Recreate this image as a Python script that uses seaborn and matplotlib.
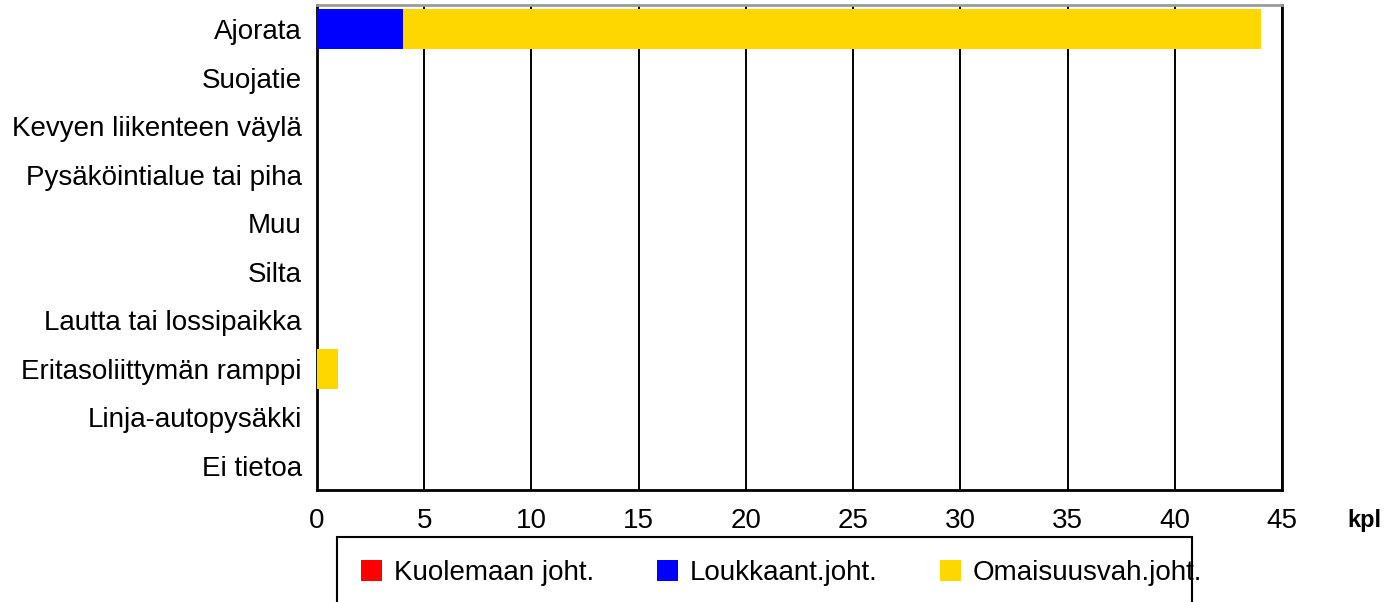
import matplotlib
matplotlib.use("Agg")
import matplotlib.pyplot as plt
import seaborn as sns
import pandas as pd
import numpy as np
from matplotlib.patches import Patch, Rectangle

sns.set_theme(style="white")
plt.rcParams["font.family"] = ["Liberation Sans", "DejaVu Sans"]
plt.rcParams["text.color"] = "black"
plt.rcParams["xtick.color"] = "black"
plt.rcParams["ytick.color"] = "black"

categories = [
    "Ajorata", "Suojatie", "Kevyen liikenteen väylä", "Pysäköintialue tai piha",
    "Muu", "Silta", "Lautta tai lossipaikka", "Eritasoliittymän ramppi",
    "Linja-autopysäkki", "Ei tietoa",
]
kuolemaan = [0, 0, 0, 0, 0, 0, 0, 0, 0, 0]
loukkaant = [4, 0, 0, 0, 0, 0, 0, 0, 0, 0]
omaisuus = [40, 0, 0, 0, 0, 0, 0, 1, 0, 0]
series_names = ["Kuolemaan joht.", "Loukkaant.joht.", "Omaisuusvah.joht."]
series_colors = ["#ff0000", "#0000ff", "#ffd700"]
x_ticks = [0, 5, 10, 15, 20, 25, 30, 35, 40, 45]

df = pd.DataFrame({
    "kategoria": categories,
    "k": kuolemaan,
    "l": loukkaant,
    "o": omaisuus,
})
df["cum_k"] = df["k"]
df["cum_l"] = df["k"] + df["l"]
df["cum_o"] = df["k"] + df["l"] + df["o"]

fig = plt.figure(figsize=(13.99, 6.02), dpi=100)
ax = fig.add_axes([317 / 1399, 1 - 490 / 602, (1282 - 317) / 1399, (490 - 5) / 602])

# stacked bars: draw cumulative totals from the back to the front
for col, color in [("cum_o", series_colors[2]), ("cum_l", series_colors[1]), ("cum_k", series_colors[0])]:
    sns.barplot(data=df, x=col, y="kategoria", order=categories, color=color,
                orient="h", width=0.82, saturation=1, linewidth=0, ax=ax, zorder=3)

ax.set_xlim(0, 45)
ax.set_xticks(x_ticks)
ax.set_xticklabels([str(t) for t in x_ticks], fontsize=20)
ax.tick_params(axis="y", labelsize=20, length=0, pad=11)
ax.tick_params(axis="x", length=0, pad=13)
ax.set_xlabel("")
ax.set_ylabel("")
ax.grid(axis="x", color="black", linewidth=1.4, zorder=1)
ax.grid(axis="y", visible=False)
ax.set_axisbelow(True)
for side in ["left", "bottom", "right"]:
    ax.spines[side].set_color("black")
    ax.spines[side].set_linewidth(2)
ax.spines["top"].set_color("#9a9a9a")
ax.spines["top"].set_linewidth(2)

fig.text(1364 / 1399, 1 - 520 / 602, "kpl", fontsize=17, fontweight="bold",
         ha="center", va="center")

# legend box running off the lower edge
fig.patches.append(Rectangle((337 / 1399, -0.05), (1192 - 337) / 1399, 0.05 + (602 - 537) / 602,
                             transform=fig.transFigure, fill=False, edgecolor="black",
                             linewidth=1.5, zorder=5))
handles = [Patch(facecolor=c, edgecolor="none") for c in series_colors]
fig.legend(handles, series_names, loc="center left",
           bbox_to_anchor=(361 / 1399, 1 - 573 / 602), ncol=3, frameon=False,
           fontsize=20, handlelength=0.76, handleheight=0.76, handletextpad=0.43,
           columnspacing=2.25, borderaxespad=0, borderpad=0)

fig.savefig("out.png", dpi=100)
